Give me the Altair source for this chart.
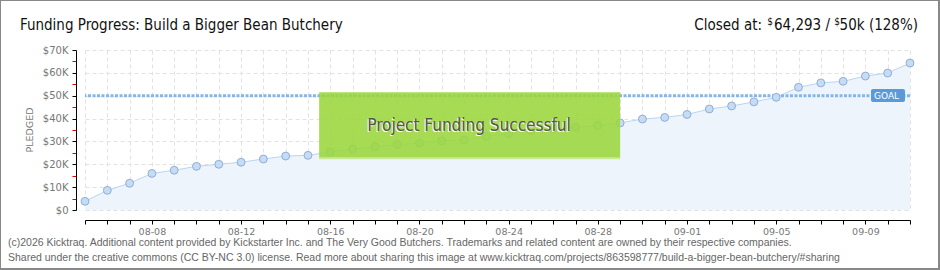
import altair as alt
import pandas as pd

# ---- data ----
dates = ["08-05", "08-06", "08-07", "08-08", "08-09", "08-10", "08-11", "08-12",
         "08-13", "08-14", "08-15", "08-16", "08-17", "08-18", "08-19", "08-20",
         "08-21", "08-22", "08-23", "08-24", "08-25", "08-26", "08-27", "08-28",
         "08-29", "08-30", "08-31", "09-01", "09-02", "09-03", "09-04", "09-05",
         "09-06", "09-07", "09-08", "09-09", "09-10", "09-11"]
pledged = [3800, 8600, 11700, 16000, 17400, 19100, 20000, 20900,
           22300, 23600, 23900, 25400, 26700, 27600, 28700, 29200,
           30200, 30600, 32200, 33400, 34800, 35600, 36200, 37000,
           38100, 39800, 40500, 41800, 44200, 45500, 47300, 49300,
           53700, 55600, 56300, 58600, 59900, 64293]
tick_labels = ["08-08", "08-12", "08-16", "08-20", "08-24", "08-28", "09-01", "09-05", "09-09"]
y_ticks = [0, 5000, 10000, 15000, 20000, 25000, 30000, 35000, 40000, 45000, 50000,
           55000, 60000, 65000, 70000]
goal = 50000
success_box = {"x": 10.5, "x2": 24.0, "y": 51500, "y2": 22600}

title_text = "Funding Progress: Build a Bigger Bean Butchery"
closed_parts = ["Closed at:", "$", "64,293 /", "$", "50k (128%)"]
closed_right = [677, 688, 745, 755, 833]   # right edges of each part (plot-relative px)
footer1 = ("(c)2026 Kicktraq. Additional content provided by Kickstarter Inc. and The Very Good Butchers. "
           "Trademarks and related content are owned by their respective companies.")
footer2 = ("Shared under the creative commons (CC BY-NC 3.0) license. Read more about sharing this image at "
           "www.kicktraq.com/projects/863598777/build-a-bigger-bean-butchery/#sharing")

W, H = 825, 160
FONT = "DejaVu Sans"
COND = "DejaVu Sans Condensed"

df = pd.DataFrame({"i": list(range(len(dates))), "date": dates, "pledged": pledged})
label_expr = "".join("datum.value == %d ? '%s' : " % (i, d) for i, d in enumerate(dates) if d in tick_labels) + "''"

x_scale = alt.Scale(domain=[0, len(dates) - 1], nice=False, zero=False)
y_scale = alt.Scale(domain=[0, 70000], nice=False)
x_axis = alt.Axis(values=list(range(len(dates))), labelExpr=label_expr, title=None,
                  offset=10, tickSize=4, labelPadding=2, domainColor="#000",
                  tickColor="#000", labelColor="#777", labelFontSize=9.5,
                  labelFont=FONT, labelAngle=0, labelOverlap=False,
                  grid=True, gridDash=[4, 3], gridColor="#e2e2e2")
y_axis = alt.Axis(values=y_ticks,
                  labelExpr="datum.value % 10000 != 0 ? '' : (datum.value == 0 ? '$0' : '$' + datum.value/1000 + 'K')",
                  title=None, offset=9, tickSize=4, labelPadding=4,
                  domainColor="#000", labelOverlap=False,
                  tickColor={"condition": {"test": "datum.value % 10000 != 0", "value": "#e00000"},
                             "value": "#000000"},
                  gridOpacity={"condition": {"test": "datum.value % 10000 != 0", "value": 0},
                               "value": 1},
                  labelColor="#777", labelFontSize=10, labelFont=FONT,
                  grid=True, gridDash=[4, 3], gridColor="#e2e2e2")

x_enc = alt.X("i:Q", scale=x_scale, axis=x_axis)
y_enc = alt.Y("pledged:Q", scale=y_scale, axis=y_axis)

base = alt.Chart(df)
area = base.mark_area(color="#edf4fc", opacity=1).encode(x=x_enc, y=y_enc)
line = base.mark_line(color="#b9d5f3", strokeWidth=1).encode(x=x_enc, y=y_enc)
points = base.mark_circle(size=62, color="#c4dcf6", stroke="#93add2", strokeWidth=1, opacity=1).encode(x=x_enc, y=y_enc)

one = alt.Data(values=[{"a": 1}])

goal_rule = alt.Chart(one).mark_rule(color="#86b6e6", strokeWidth=3, strokeDash=[3, 1.5]).encode(
    y=alt.YDatum(goal, scale=y_scale, axis=y_axis))

goal_box = alt.Chart(one).mark_rect(color="#5a9ad8", cornerRadius=2).encode(
    x=alt.value(786), x2=alt.value(820), y=alt.value(39), y2=alt.value(52))
goal_txt = alt.Chart(one).mark_text(text="GOAL", color="white", fontSize=9, font=FONT,
                                    align="left", baseline="middle").encode(
    x=alt.value(789), y=alt.value(46))

box = alt.Chart(one).mark_rect(color="#9bd63c", opacity=0.88).encode(
    x=alt.XDatum(success_box["x"], scale=x_scale, axis=x_axis), x2=alt.datum(success_box["x2"]),
    y=alt.YDatum(success_box["y"], scale=y_scale, axis=y_axis), y2=alt.datum(success_box["y2"]))
box_edge = alt.Chart(one).mark_rule(color="#c9ea97", strokeWidth=2).encode(
    x=alt.XDatum(success_box["x"], scale=x_scale, axis=x_axis), x2=alt.datum(success_box["x2"]),
    y=alt.YDatum(success_box["y2"], scale=y_scale, axis=y_axis))
succ_shadow = alt.Chart(one).mark_text(text="Project Funding Successful", color="white",
                                       fontSize=17, font=COND,
                                       align="center", baseline="middle", dx=-1, dy=1).encode(
    x=alt.value(384), y=alt.value(76))
succ_txt = alt.Chart(one).mark_text(text="Project Funding Successful", color="#555",
                                    fontSize=17, font=COND,
                                    align="center", baseline="middle").encode(
    x=alt.value(384), y=alt.value(76))

title = alt.Chart(one).mark_text(text=title_text, color="#111", fontSize=15, font=COND,
                                 align="left", baseline="alphabetic").encode(
    x=alt.value(-65), y=alt.value(-20))

closed_layers = []
for part, rx in zip(closed_parts, closed_right):
    small = part == "$"
    closed_layers.append(alt.Chart(one).mark_text(
        text=part, color="#111", fontSize=10 if small else 15, font=COND, align="right",
        baseline="alphabetic").encode(x=alt.value(rx), y=alt.value(-25 if small else -20)))

ylabel = alt.Chart(one).mark_text(text="PLEDGED", color="#777", fontSize=9.5, font=FONT, angle=270,
                                  align="center", baseline="middle").encode(
    x=alt.value(-55), y=alt.value(80))

foot1 = alt.Chart(one).mark_text(text=footer1, color="#666", fontSize=10.5, font="Liberation Sans",
                                 align="left", baseline="middle").encode(
    x=alt.value(-77), y=alt.value(193))
foot2 = alt.Chart(one).mark_text(text=footer2, color="#666", fontSize=10.5, font="Liberation Sans",
                                 align="left", baseline="middle").encode(
    x=alt.value(-77), y=alt.value(208))

frame = alt.Chart(one).mark_rect(fill=None, stroke="#888", strokeWidth=2).encode(
    x=alt.value(-85), x2=alt.value(854), y=alt.value(-50), y2=alt.value(219))

chart = alt.layer(area, line, goal_rule, points, goal_box, goal_txt, box, box_edge,
                  succ_shadow, succ_txt, title, *closed_layers, ylabel, foot1, foot2, frame).properties(
    width=W, height=H,
    autosize=alt.AutoSizeParams(type="none"),
    padding={"left": 85, "top": 50, "right": 30, "bottom": 60},
    background="white"
).configure_view(stroke=None)

chart.save("out.html", embed_options={"renderer": "svg", "actions": False})
